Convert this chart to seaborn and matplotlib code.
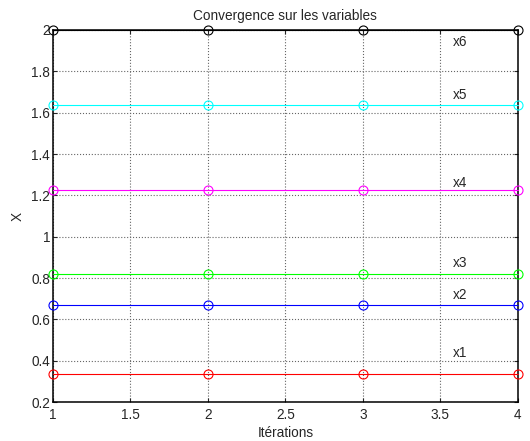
import matplotlib
matplotlib.use("Agg")
import matplotlib.pyplot as plt
import seaborn as sns
import pandas as pd

# data
iterations = [1, 2, 3, 4]
x1 = [0.338, 0.338, 0.338, 0.338]
x2 = [0.668, 0.668, 0.668, 0.668]
x3 = [0.820, 0.820, 0.820, 0.820]
x4 = [1.226, 1.226, 1.226, 1.226]
x5 = [1.636, 1.636, 1.636, 1.636]
x6 = [2.0, 2.0, 2.0, 2.0]
names = ["x1", "x2", "x3", "x4", "x5", "x6"]
colors = ["#ff0000", "#0000ff", "#00ff00", "#ff00ff", "#00ffff", "#000000"]
label_y = [0.436, 0.718, 0.874, 1.261, 1.687, 1.94]
label_x = 3.58

sns.set_style("ticks", {"xtick.direction": "in", "ytick.direction": "in"})
plt.rcParams['font.family'] = ['Liberation Sans', 'DejaVu Sans']

fig = plt.figure(figsize=(5.3, 4.41), dpi=100)
ax = fig.add_axes([0.1, 0.088, 0.877, 0.844])

series = [x1, x2, x3, x4, x5, x6]
for name, vals, c in zip(names, series, colors):
    df = pd.DataFrame({"it": iterations, "val": vals})
    sns.lineplot(data=df, x="it", y="val", ax=ax, color=c, marker="o",
                 markersize=6.5, markerfacecolor="none", markeredgecolor=c,
                 markeredgewidth=0.8, linewidth=0.8, clip_on=False, zorder=3)

fs = 9.8
for name, ly in zip(names, label_y):
    ax.text(label_x, ly, name, fontsize=fs, ha="left", va="center")

ax.set_xlim(1, 4)
ax.set_ylim(0.2, 2)
ax.set_xticks([1, 1.5, 2, 2.5, 3, 3.5, 4])
ax.set_xticklabels(["1", "1.5", "2", "2.5", "3", "3.5", "4"])
ax.set_yticks([0.2, 0.4, 0.6, 0.8, 1, 1.2, 1.4, 1.6, 1.8, 2])
ax.set_yticklabels(["0.2", "0.4", "0.6", "0.8", "1", "1.2", "1.4", "1.6", "1.8", "2"])
ax.tick_params(labelsize=fs, top=True, right=True, length=3, width=0.8, pad=2)
ax.tick_params(axis="x", pad=4)
ax.grid(True, linestyle=":", color="#666666", linewidth=0.8)
for s in ax.spines.values():
    s.set_visible(True)
    s.set_linewidth(1.1)
    s.set_color("black")

ax.set_xlabel("Itérations", fontsize=fs, labelpad=3)
ax.set_ylabel("X", fontsize=fs, labelpad=5)
ax.set_title("Convergence sur les variables", fontsize=fs, pad=7)

fig.savefig("out.png", dpi=100)
